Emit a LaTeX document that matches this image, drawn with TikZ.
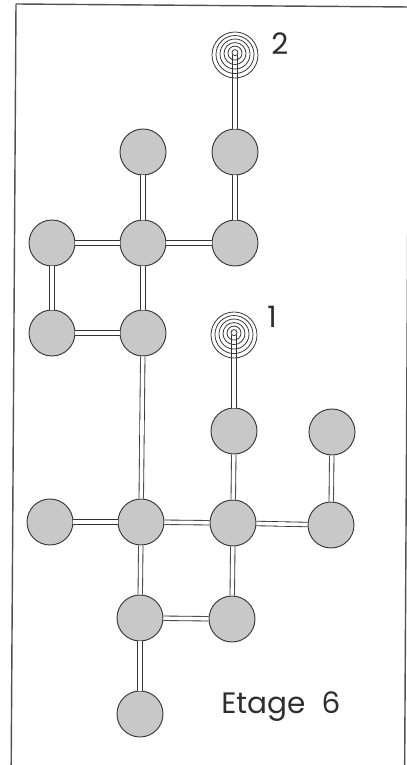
\documentclass[tikz,border=0pt]{standalone}
\usepackage{fontspec}
\setmainfont{Poppins}
\definecolor{ink}{HTML}{333333}
\definecolor{ball}{HTML}{C8C8C8}
\tikzset{
  every picture/.style={line cap=round, line join=round},
  atom/.style={circle, draw=ink, line width=0.65pt, fill=ball, minimum size=11.5mm, inner sep=0pt},
  bond/.style={draw=ink, line width=0.6pt, double=white, double distance=2.6pt, line cap=butt},
  ring/.style={ink, line width=0.55pt},
  frame/.style={ink!85, line width=1pt},
  lbl/.style={font=\fontsize{21}{25}\selectfont, text=ink!90!black, inner sep=0pt},
  % open end of a chain: concentric rings, tighter at the top
  spiral/.pic={
    \foreach \r in {23,19,15,11,7,3}
      \draw[ring] (0,{-0.12*(23-\r)}) circle (\r);
  },
}
\begin{document}
\begin{tikzpicture}[x=0.25mm, y=-0.25mm]
  \useasboundingbox (0,0) rectangle (406,765);
  \fill[white] (0,0) rectangle (406,765);
  \draw[frame] (16,4) -- (409,7) -- (404.5,795) -- (11,795) -- cycle;
  % chain ends
  \coordinate (s2) at (235,55);
  \coordinate (s1) at (234,335);
  % upper part
  \node[atom] (t1) at (143,152) {};
  \node[atom] (t2) at (235,152) {};
  \node[atom] (u1) at (52,243) {};
  \node[atom] (u2) at (143,243) {};
  \node[atom] (u3) at (235,243) {};
  \node[atom] (v1) at (52,333) {};
  \node[atom] (v2) at (143,333) {};
  % lower part
  \node[atom] (w1) at (234,431) {};
  \node[atom] (w2) at (332,432) {};
  \node[atom] (x1) at (50,522) {};
  \node[atom] (x2) at (141,522) {};
  \node[atom] (x3) at (233,523) {};
  \node[atom] (x4) at (331,525) {};
  \node[atom] (y1) at (140,618) {};
  \node[atom] (y2) at (232,619) {};
  \node[atom] (z1) at (140,714) {};
  % bonds
  \draw[bond] (t2) -- (s2);
  \draw[bond] (t1) -- (u2);
  \draw[bond] (t2) -- (u3);
  \draw[bond] (u1) -- (u2);
  \draw[bond] (u2) -- (u3);
  \draw[bond] (u1) -- (v1);
  \draw[bond] (v1) -- (v2);
  \draw[bond] (u2) -- (v2);
  \draw[bond] (v2) -- (x2);
  \draw[bond] (w1) -- (s1);
  \draw[bond] (w1) -- (x3);
  \draw[bond] (w2) -- (x4);
  \draw[bond] (x1) -- (x2);
  \draw[bond] (x2) -- (x3);
  \draw[bond] (x3) -- (x4);
  \draw[bond] (x2) -- (y1);
  \draw[bond] (x3) -- (y2);
  \draw[bond] (y1) -- (y2);
  \draw[bond] (y1) -- (z1);
  \pic at (s2) {spiral};
  \pic at (s1) {spiral};
  % labels
  \node[lbl, anchor=base west] (n2) at (271,55) {2};
  \node[lbl, anchor=base west] (n1) at (267,327) {1};
  \node[lbl, anchor=base west] (etage) at (221,713) {Etage\hspace{0.55em}6};
\end{tikzpicture}
\end{document}
